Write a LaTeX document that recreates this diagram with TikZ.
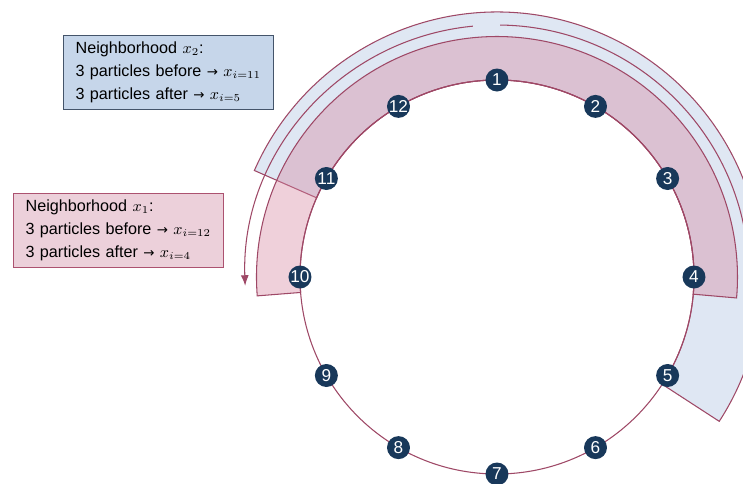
\documentclass[tikz,border=0pt]{standalone}
\usepackage{fontspec}
\setmainfont{Liberation Sans}
\newfontfamily\arrowfont{DejaVu Sans}
\usetikzlibrary{arrows.meta,positioning}
\definecolor{ringColor}{RGB}{158,72,102}
\definecolor{dotColor}{RGB}{24,56,90}
\definecolor{bandBlue}{RGB}{223,231,243}
\definecolor{bandPink}{RGB}{214,134,160}
\definecolor{boxBlue}{RGB}{198,214,234}
\definecolor{boxBlueLine}{RGB}{68,84,106}
\definecolor{boxPink}{RGB}{236,208,218}
\definecolor{boxPinkLine}{RGB}{172,82,112}
\newcommand{\toarrow}{{\arrowfont\fontsize{7.6}{13}\selectfont →}}
\tikzset{>={Latex[length=6pt,width=4.5pt]}}
\tikzset{
  particle/.style={circle,fill=dotColor,text=white,inner sep=0pt,minimum size=0.46cm,font=\fontsize{9.8}{10}\selectfont},
  infobox/.style={draw,line width=0.7pt,anchor=north west,text width=3.72cm,inner xsep=0.24cm,inner ysep=0pt,minimum height=1.48cm,align=left,font=\fontsize{9.2}{13}\selectfont},
  ring/.style={ringColor,line width=0.6pt}
}

\begin{document}
\begin{tikzpicture}
      \useasboundingbox (-9.94,-4.12) rectangle (4.92,5.54);
      \clip (-9.94,-4.12) rectangle (4.92,5.54);
      % neighborhood bands
      \draw [ring,fill=bandBlue] (-33:3.94) arc [start angle=-33,end angle=156.3,radius=3.94]
            -- (156.3:5.3) arc [start angle=156.3,end angle=-33,radius=5.3] -- cycle;
      \draw [ring,fill=bandPink,fill opacity=0.39] (-5:3.94) arc [start angle=-5,end angle=184.5,radius=3.94]
            -- (184.5:4.81) arc [start angle=184.5,end angle=-5,radius=4.81] -- cycle;
      % ring of particles
      \draw [ring] (0,0) circle [radius=3.94];
      \draw [ring,->] (95.5:5.04) arc [start angle=95.5,end angle=182,radius=5.04];
      \draw [ring] (89.3:5.04) arc [start angle=89.3,end angle=0,radius=5.04];
      \foreach \i in {1,...,12}
        \node [particle] (p\i) at ({120-30*\i}:3.94) {\i};
      % info boxes
      \node [infobox,fill=boxBlue,draw=boxBlueLine] (nbTwo) at (-8.68,4.84)
            {\mbox{Neighborhood $x_2$:}\\\mbox{3 particles before \toarrow{} $x_{i=11}$}\\\mbox{3 particles after \toarrow{} $x_{i=5}$}};
      \node [infobox,fill=boxPink,draw=boxPinkLine] (nbOne) at (-9.68,1.68)
            {\mbox{Neighborhood $x_1$:}\\\mbox{3 particles before \toarrow{} $x_{i=12}$}\\\mbox{3 particles after \toarrow{} $x_{i=4}$}};
\end{tikzpicture}
\end{document}
